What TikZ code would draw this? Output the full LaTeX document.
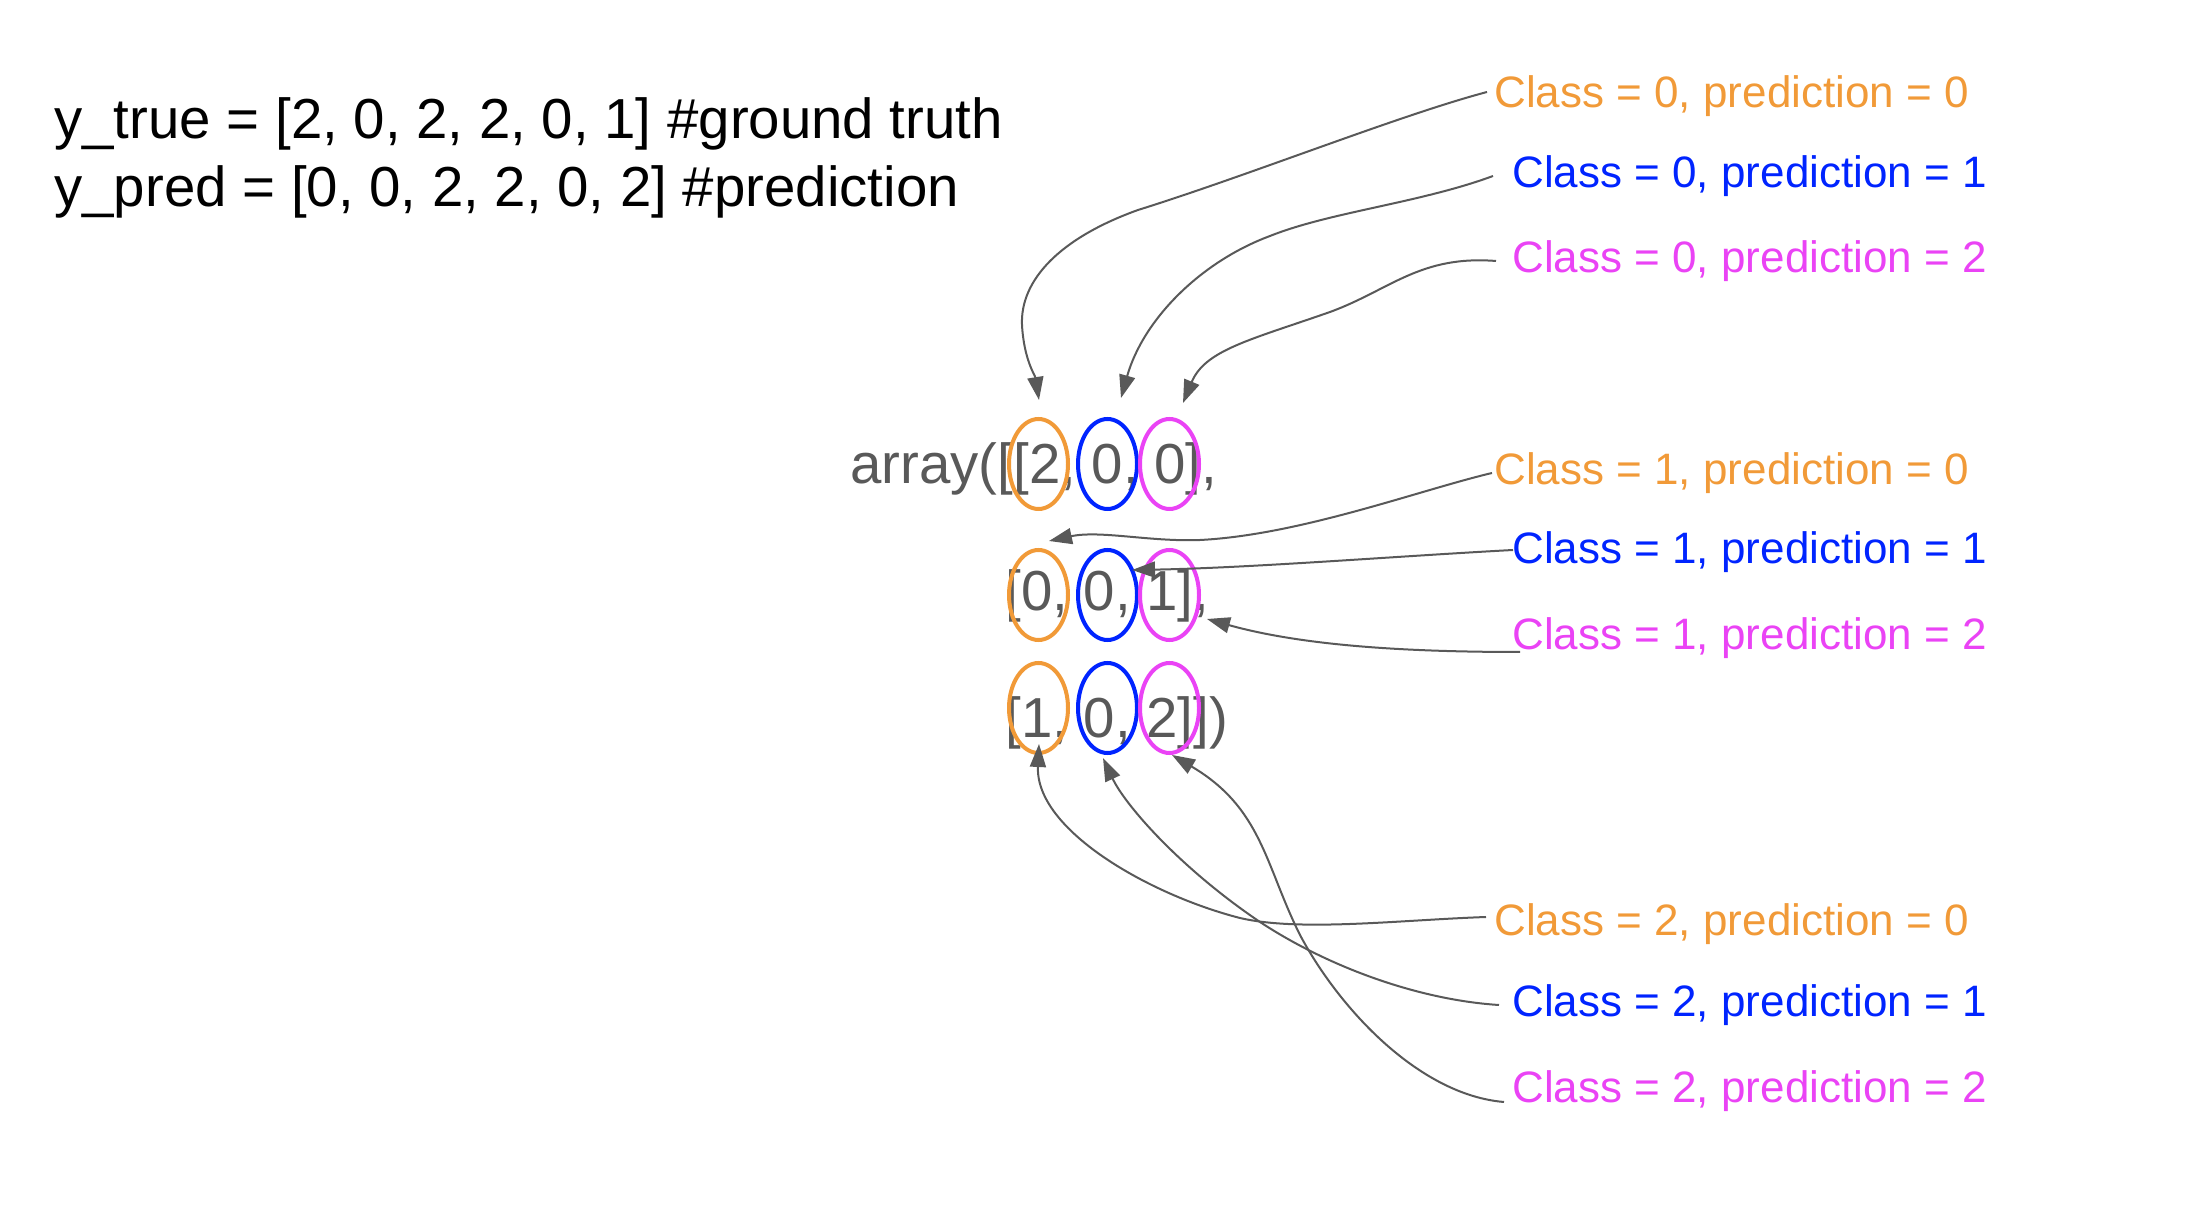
\documentclass[tikz,border=0pt]{standalone}
\usepackage{fontspec}
\setmainfont{Liberation Sans}
\usetikzlibrary{positioning}
\usetikzlibrary{shapes.geometric}
\usetikzlibrary{arrows.meta}
\definecolor{predorange}{RGB}{241,154,56}
\definecolor{predblue}{RGB}{0,36,255}
\definecolor{predpink}{RGB}{234,67,245}
\definecolor{codegray}{RGB}{89,89,89}
\tikzset{
	code/.style={inner sep=0pt, anchor=base west, font=\fontsize{28.2}{34}\selectfont},
	lab/.style={inner sep=0pt, anchor=base west, font=\fontsize{22}{26}\selectfont},
	ring/.style={draw=#1, line width=2pt, ellipse, minimum width=29.5pt, minimum height=45pt, inner sep=0pt},
	pointer/.style={draw=codegray, line width=1pt, -{Triangle[length=11.5pt,width=8pt]}}
}

\begin{document}
\begin{tikzpicture}[x=0.5pt,y=-0.5pt]
					\useasboundingbox (0,0) rectangle (2208,1218);

					\node [code] (ytrue) at (54,139) {y\_true = [2, 0, 2, 2, 0, 1] \#ground truth};
					\node [code] (ypred) at (54,207) {y\_pred = [0, 0, 2, 2, 0, 2] \#prediction};

					\node [code, text=codegray] (row0) at (850,484) {array([[2, 0, 0],};
					\node [code, text=codegray] (row1) at (1005,611) {[0, 0, 1],};
					\node [code, text=codegray] (row2) at (1005,738) {[1, 0, 2]])};

					\node [ring=predorange] (c0p0) at (1038.5,464) {};
					\node [ring=predblue] (c0p1) at (1107.5,464) {};
					\node [ring=predpink] (c0p2) at (1169.5,464) {};
					\node [ring=predorange] (c1p0) at (1038.5,595) {};
					\node [ring=predblue] (c1p1) at (1107.5,595) {};
					\node [ring=predpink] (c1p2) at (1169.5,595) {};
					\node [ring=predorange] (c2p0) at (1038.5,708) {};
					\node [ring=predblue] (c2p1) at (1107.5,708) {};
					\node [ring=predpink] (c2p2) at (1169.5,708) {};

					\node [lab, text=predorange] (l0p0) at (1494,108) {Class = 0, prediction = 0};
					\node [lab, text=predblue] (l0p1) at (1512,188) {Class = 0, prediction = 1};
					\node [lab, text=predpink] (l0p2) at (1512,273) {Class = 0, prediction = 2};
					\node [lab, text=predorange] (l1p0) at (1494,485) {Class = 1, prediction = 0};
					\node [lab, text=predblue] (l1p1) at (1512,564) {Class = 1, prediction = 1};
					\node [lab, text=predpink] (l1p2) at (1512,650) {Class = 1, prediction = 2};
					\node [lab, text=predorange] (l2p0) at (1494,936) {Class = 2, prediction = 0};
					\node [lab, text=predblue] (l2p1) at (1512,1017) {Class = 2, prediction = 1};
					\node [lab, text=predpink] (l2p2) at (1512,1102) {Class = 2, prediction = 2};

					\coordinate (t0p0) at (1039,400);
					\coordinate (t0p1) at (1121,398);
					\coordinate (t0p2) at (1183,403);
					\coordinate (t1p0) at (1049,541);
					\coordinate (t1p1) at (1132,570);
					\coordinate (t1p2) at (1207,619);
					\coordinate (t2p0) at (1039,744);
					\coordinate (t2p1) at (1103,758);
					\coordinate (t2p2) at (1172,755);

					\draw [pointer] ([shift={(-7,-16)}]l0p0.base west) .. controls (1400,115) and (1250,175) .. (1138,210) .. controls (1060,238) and (1020,280) .. (1022,325) .. controls (1024,360) and (1035,375) .. (t0p0);
					\draw [pointer] ([shift={(-19,-12)}]l0p1.base west) .. controls (1420,203) and (1330,212) .. (1270,236) .. controls (1200,262) and (1143,320) .. (t0p1);
					\draw [pointer] ([shift={(-16,-12)}]l0p2.base west) .. controls (1420,255) and (1390,290) .. (1330,312) .. controls (1250,340) and (1205,350) .. (t0p2);

					\draw [pointer] ([shift={(-2,-12)}]l1p0.base west) .. controls (1420,490) and (1300,535) .. (1200,540) .. controls (1150,542) and (1100,530) .. (t1p0);
					\draw [pointer] ([shift={(1,-14)}]l1p1.base west) .. controls (1400,556) and (1250,568) .. (t1p1);
					\draw [pointer] ([shift={(8,2)}]l1p2.base west) .. controls (1400,652) and (1300,645) .. (t1p2);

					\draw [pointer] ([shift={(-8,-19)}]l2p0.base west) .. controls (1400,920) and (1300,932) .. (1240,918) .. controls (1150,895) and (1035,830) .. (t2p0);
					\draw [pointer] ([shift={(-13,-12)}]l2p1.base west) .. controls (1420,1000) and (1330,968) .. (1260,922) .. controls (1180,868) and (1125,805) .. (t2p1);
					\draw [pointer] ([shift={(-8,0)}]l2p2.base west) .. controls (1420,1095) and (1340,1010) .. (1300,935) .. controls (1265,865) and (1262,808) .. (t2p2);
				\end{tikzpicture}
\end{document}
